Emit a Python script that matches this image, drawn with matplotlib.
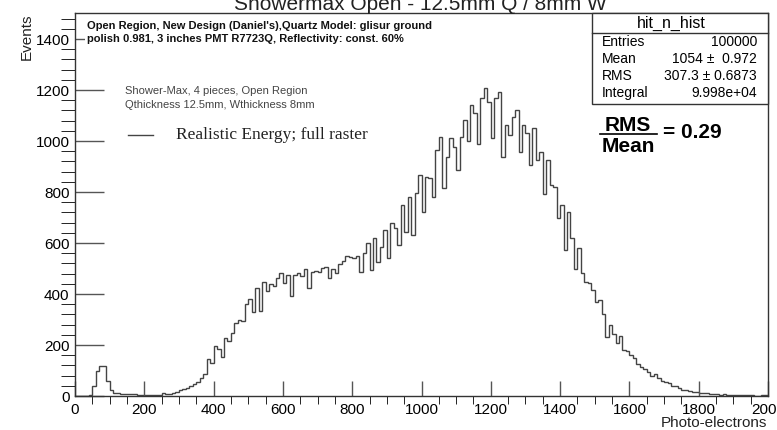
# Showermax open region - photo-electron histogram (ROOT style)
import numpy as np
import matplotlib
matplotlib.use('Agg')
import matplotlib.pyplot as plt
from matplotlib.lines import Line2D
from matplotlib.patches import Rectangle

plt.rcParams['font.family'] = ['Liberation Sans', 'DejaVu Sans']

# bin edges: 0..2000, width 10
bin_edges = list(range(0, 2001, 10))

# counts per bin
counts_0_390 = [0, 0, 0, 0, 5, 40, 97, 117, 117, 60,
                24, 13, 10, 8, 8, 6, 7, 7, 4, 3,
                3, 3, 3, 4, 5, 12, 6, 8, 10, 14,
                25, 28, 30, 38, 48, 55, 72, 88, 146, 131]
counts_400_790 = [196, 185, 152, 226, 216, 248, 285, 298, 294, 360,
                  379, 331, 425, 335, 447, 412, 438, 431, 464, 481,
                  442, 473, 392, 473, 484, 470, 499, 425, 488, 490,
                  486, 503, 507, 464, 499, 484, 516, 529, 549, 546]
counts_800_1190 = [540, 549, 487, 559, 599, 494, 619, 527, 586, 652,
                   540, 677, 658, 592, 749, 645, 782, 631, 795, 867,
                   723, 860, 853, 782, 965, 1017, 815, 938, 1010, 977,
                   886, 1017, 1082, 1000, 1141, 1108, 990, 1167, 1206, 1154]
counts_1200_1590 = [1011, 1167, 1193, 938, 1063, 1024, 1096, 1120, 958, 1063,
                    1030, 906, 1050, 925, 958, 794, 925, 827, 820, 697,
                    749, 572, 723, 618, 500, 579, 481, 448, 442, 416,
                    370, 377, 320, 233, 278, 245, 207, 235, 180, 175]
counts_1600_1990 = [160, 150, 125, 115, 105, 95, 80, 85, 70, 60,
                    55, 50, 40, 38, 30, 25, 22, 18, 15, 17,
                    13, 12, 10, 8, 7, 6, 5, 6, 3, 4,
                    3, 2, 3, 2, 4, 2, 1, 0, 2, 2]
counts = counts_0_390 + counts_400_790 + counts_800_1190 + counts_1200_1590 + counts_1600_1990

stat_names = ['Entries', 'Mean', 'RMS', 'Integral']
stat_values = ['100000', '1054 \u00b1  0.972', '307.3 \u00b1 0.6873', '9.998e+04']

W, H = 777, 430
def fx(px):
    return px / W
def fy(py):
    return 1 - py / H

fig = plt.figure(figsize=(7.77, 4.30), dpi=100)
ax = fig.add_axes([fx(75), fy(396), fx(768) - fx(75), fy(13) - fy(396)])

ax.stairs(counts, bin_edges, color='#444444', lw=1.0)

ax.set_xlim(0, 2000)
ax.set_ylim(0, 1502)
ax.set_xticks(range(0, 2001, 200))
ax.set_xticks(range(0, 2001, 50), minor=True)
ax.set_yticks(range(0, 1401, 200))
ax.set_yticks(range(0, 1501, 40), minor=True)
ax.tick_params(direction='in', labelsize=11, width=1.0, color='#555555')
ax.tick_params(axis='x', which='major', length=11, pad=5)
ax.tick_params(axis='x', which='minor', length=5.5)
ax.tick_params(axis='y', which='major', length=21, pad=4)
ax.tick_params(axis='y', which='minor', length=10)
for s in ax.spines.values():
    s.set_linewidth(1.0)
    s.set_color('#333333')

# titles
fig.text(fx(420), fy(10), 'Showermax Open - 12.5mm Q / 8mm W', ha='center',
         va='baseline', fontsize=15, color='#222222')
fig.text(fx(27), fy(13), 'Events', rotation=90, ha='center', va='top',
         fontsize=11, color='#222222')
fig.text(fx(767), fy(423), 'Photo-electrons', ha='right', va='center',
         fontsize=11, color='#222222')

# description boxes
fig.text(fx(87), fy(21), "Open Region, New Design (Daniel's),Quartz Model: glisur ground\n"
         "polish 0.981, 3 inches PMT R7723Q, Reflectivity: const. 60%",
         ha='left', va='top', fontsize=8.0, fontweight='bold', linespacing=1.4,
         color='#111111',
         bbox=dict(facecolor='white', edgecolor='none', pad=1.5))
fig.text(fx(125), fy(86), 'Shower-Max, 4 pieces, Open Region\nQthickness 12.5mm, Wthickness 8mm',
         ha='left', va='top', fontsize=8.0, linespacing=1.45, color='#444444')

# legend entry
fig.add_artist(Line2D([fx(128), fx(153)], [fy(135), fy(135)], color='#444444', lw=1.0))
fig.text(fx(176), fy(135), 'Realistic Energy; full raster', ha='left', va='center',
         fontsize=12.5, family='Liberation Serif', color='#222222')

# stats box
fig.add_artist(Rectangle((fx(592), fy(104)), fx(768) - fx(592), fy(13) - fy(104),
                         facecolor='white', edgecolor='#333333', lw=1.0,
                         transform=fig.transFigure))
fig.add_artist(Line2D([fx(592), fx(768)], [fy(33), fy(33)], color='#333333', lw=1.0))
fig.text(fx(671), fy(23), 'hit_n_hist', ha='center', va='center', fontsize=11.5)
for i, (n, v) in enumerate(zip(stat_names, stat_values)):
    y = 42 + i * 17
    fig.text(fx(602), fy(y), n, ha='left', va='center', fontsize=10)
    fig.text(fx(757), fy(y), v, ha='right', va='center', fontsize=10)

# RMS / Mean
fig.text(fx(628), fy(125), 'RMS', ha='center', va='center', fontsize=15, fontweight='bold')
fig.add_artist(Line2D([fx(600), fx(657)], [fy(134), fy(134)], color='black', lw=1.2))
fig.text(fx(628), fy(146), 'Mean', ha='center', va='center', fontsize=15, fontweight='bold')
fig.text(fx(663), fy(133), '= 0.29', ha='left', va='center', fontsize=15, fontweight='bold')

fig.savefig('out.png', dpi=100)
